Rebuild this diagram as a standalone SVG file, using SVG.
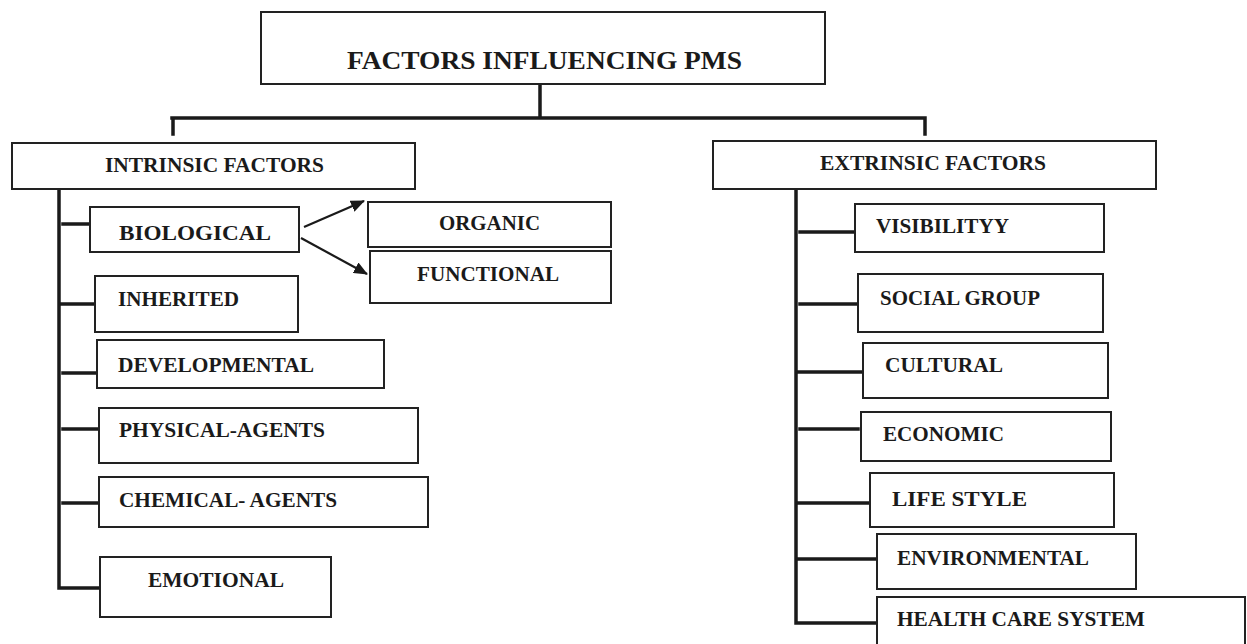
<svg xmlns="http://www.w3.org/2000/svg" width="1247" height="644" viewBox="0 0 1247 644">
<style>
.box{fill:#fff;stroke:#222;stroke-width:2}
.t{font-family:"Liberation Serif","Times New Roman",serif;font-weight:bold;fill:#1a1a1a;font-size:21px}
.title{font-size:26px}
.c{fill:none;stroke:#1a1a1a;stroke-width:3.5;stroke-linecap:square}
.a{fill:none;stroke:#1a1a1a;stroke-width:2.2}
</style>
<defs>
<marker id="ah" markerWidth="14" markerHeight="12" refX="13" refY="6" orient="auto" markerUnits="userSpaceOnUse">
<path d="M0,0 L14,6 L0,12 Z" fill="#1a1a1a"/>
</marker>
</defs>
<rect width="1247" height="644" fill="#fff"/>
<g id="connectors">
<path class="c" d="M540,85 V116 M172,118 H925 M173,118 V134 M925,118 V134"/>
<path class="c" d="M59,191 V588 M63,224 H90 M61,304 H95 M63,373 H97 M63,429 H99 M63,503 H103 M61,588 H100"/>
<path class="c" d="M796,191 V623 H877 M800,232 H855 M800,304 H860 M797,372 H863 M800,429 H858 M796,503 H870 M797,559 H877"/>
<line class="a" x1="304" y1="227" x2="364" y2="201" marker-end="url(#ah)"/>
<line class="a" x1="301" y1="238" x2="367" y2="274" marker-end="url(#ah)"/>
</g>
<g id="title"><rect class="box" x="261" y="12" width="564" height="72"/><text class="t title" x="347" y="69" textLength="395" lengthAdjust="spacingAndGlyphs">FACTORS INFLUENCING PMS</text></g>
<g id="intrinsic"><rect class="box" x="12" y="143" width="403" height="46"/><text class="t" x="105" y="172" textLength="219" lengthAdjust="spacingAndGlyphs">INTRINSIC FACTORS</text></g>
<g id="extrinsic"><rect class="box" x="713" y="141" width="443" height="48"/><text class="t" x="820" y="170" textLength="226" lengthAdjust="spacingAndGlyphs">EXTRINSIC FACTORS</text></g>
<g id="biological"><rect class="box" x="90" y="207" width="209" height="45"/><text class="t" x="119" y="240" textLength="152" lengthAdjust="spacingAndGlyphs">BIOLOGICAL</text></g>
<g id="organic"><rect class="box" x="368" y="202" width="243" height="45"/><text class="t" x="439" y="230" textLength="101" lengthAdjust="spacingAndGlyphs">ORGANIC</text></g>
<g id="functional"><rect class="box" x="370" y="251" width="241" height="52"/><text class="t" x="417" y="281" textLength="142" lengthAdjust="spacingAndGlyphs">FUNCTIONAL</text></g>
<g id="inherited"><rect class="box" x="95" y="276" width="203" height="56"/><text class="t" x="118" y="306" textLength="121" lengthAdjust="spacingAndGlyphs">INHERITED</text></g>
<g id="developmental"><rect class="box" x="97" y="340" width="287" height="48"/><text class="t" x="118" y="372" textLength="196" lengthAdjust="spacingAndGlyphs">DEVELOPMENTAL</text></g>
<g id="physical"><rect class="box" x="99" y="408" width="319" height="55"/><text class="t" x="119" y="437" textLength="206" lengthAdjust="spacingAndGlyphs">PHYSICAL-AGENTS</text></g>
<g id="chemical"><rect class="box" x="99" y="477" width="329" height="50"/><text class="t" x="119" y="507" textLength="218" lengthAdjust="spacingAndGlyphs">CHEMICAL- AGENTS</text></g>
<g id="emotional"><rect class="box" x="100" y="557" width="231" height="60"/><text class="t" x="148" y="587" textLength="136" lengthAdjust="spacingAndGlyphs">EMOTIONAL</text></g>
<g id="visibility"><rect class="box" x="855" y="204" width="249" height="48"/><text class="t" x="876" y="233" textLength="133" lengthAdjust="spacingAndGlyphs">VISIBILITYY</text></g>
<g id="social"><rect class="box" x="858" y="274" width="245" height="58"/><text class="t" x="880" y="305" textLength="160" lengthAdjust="spacingAndGlyphs">SOCIAL GROUP</text></g>
<g id="cultural"><rect class="box" x="863" y="343" width="245" height="55"/><text class="t" x="885" y="372" textLength="118" lengthAdjust="spacingAndGlyphs">CULTURAL</text></g>
<g id="economic"><rect class="box" x="861" y="412" width="250" height="49"/><text class="t" x="883" y="441" textLength="121" lengthAdjust="spacingAndGlyphs">ECONOMIC</text></g>
<g id="lifestyle"><rect class="box" x="870" y="473" width="244" height="54"/><text class="t" x="892" y="506" textLength="135" lengthAdjust="spacingAndGlyphs">LIFE STYLE</text></g>
<g id="environmental"><rect class="box" x="877" y="534" width="259" height="55"/><text class="t" x="897" y="565" textLength="192" lengthAdjust="spacingAndGlyphs">ENVIRONMENTAL</text></g>
<g id="healthcare"><rect class="box" x="877" y="597" width="368" height="60"/><text class="t" x="897" y="626" textLength="248" lengthAdjust="spacingAndGlyphs">HEALTH CARE SYSTEM</text></g>
</svg>
